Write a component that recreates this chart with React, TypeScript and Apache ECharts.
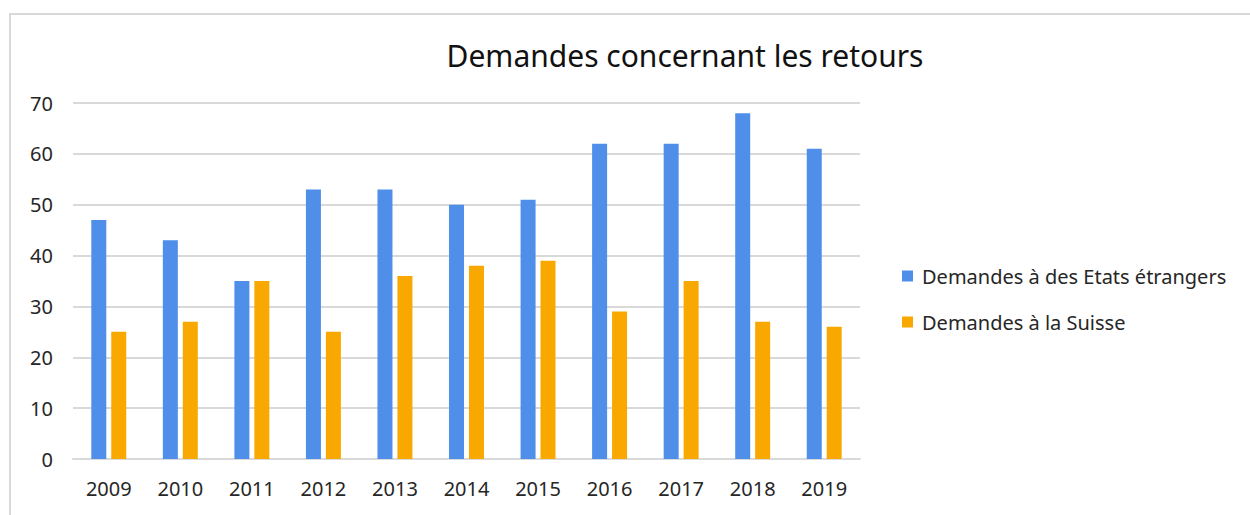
import React, { useEffect, useRef } from "react";
import * as echarts from "echarts";

const categories = ["2009", "2010", "2011", "2012", "2013", "2014", "2015", "2016", "2017", "2018", "2019"];
const foreignStates = [47, 43, 35, 53, 53, 50, 51, 62, 62, 68, 61];
const switzerland = [25, 27, 35, 25, 36, 38, 39, 29, 35, 27, 26];
const seriesNames = ["Demandes à des Etats étrangers", "Demandes à la Suisse"];
const titleText = "Demandes concernant les retours";

const FONT = "'Noto Sans', sans-serif";

export default function App() {
  const ref = useRef<HTMLDivElement>(null);
  useEffect(() => {
    document.body.style.margin = "0";
    const chart = echarts.init(ref.current!, null, { renderer: "svg" });
    chart.setOption({
      animation: false,
      backgroundColor: "#ffffff",
      title: {
        text: titleText,
        left: 680,
        top: 35,
        textAlign: "center",
        textStyle: { fontFamily: FONT, fontSize: 30, fontWeight: "normal", color: "#111111" },
      },
      graphic: [
        {
          type: "rect",
          shape: { x: 10, y: 14, width: 1400, height: 700 },
          style: { fill: "none", stroke: "#d9d9d9", lineWidth: 2 },
          silent: true,
        },
      ],
      legend: {
        orient: "vertical",
        left: 897,
        top: 261,
        itemWidth: 11,
        itemHeight: 11,
        itemGap: 26,
        icon: "rect",
        textStyle: { fontFamily: FONT, fontSize: 20, lineHeight: 20, color: "#262626", padding: [0, 0, 0, 4] },
        data: seriesNames,
      },
      grid: { left: 73, right: 390, top: 103, bottom: 56 },
      xAxis: {
        type: "category",
        data: categories,
        axisLine: { lineStyle: { color: "#d9d9d9", width: 2 } },
        axisTick: { show: false },
        axisLabel: { fontFamily: FONT, fontSize: 20, color: "#262626", margin: 19 },
      },
      yAxis: {
        type: "value",
        min: 0,
        max: 70,
        interval: 10,
        axisLine: { show: false },
        axisTick: { show: false },
        splitLine: { lineStyle: { color: "#d9d9d9", width: 2 } },
        axisLabel: { fontFamily: FONT, fontSize: 20, color: "#262626", margin: 20 },
      },
      series: [
        {
          name: seriesNames[0],
          type: "bar",
          data: foreignStates,
          barWidth: 15,
          barGap: "33%",
          itemStyle: { color: "#4f8fea" },
        },
        {
          name: seriesNames[1],
          type: "bar",
          data: switzerland,
          barWidth: 15,
          itemStyle: { color: "#f9a800" },
        },
      ],
    });
    return () => chart.dispose();
  }, []);
  return <div ref={ref} style={{ position: "absolute", left: 0, top: 0, width: 1250, height: 515 }} />;
}
